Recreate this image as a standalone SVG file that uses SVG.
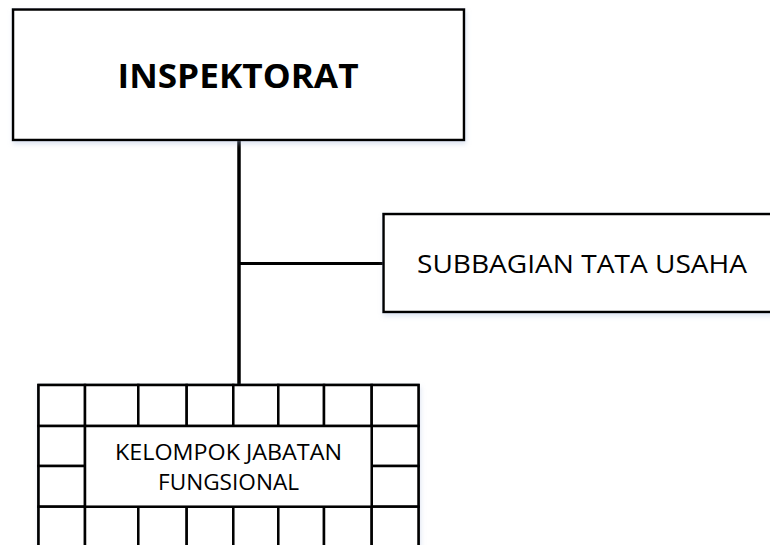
<svg xmlns="http://www.w3.org/2000/svg" width="770" height="545" viewBox="0 0 770 545">
<defs>
<style>
.box{fill:#fff;stroke:#000;stroke-width:2.5}
.cell{fill:#fff;stroke:#000;stroke-width:2.5}
.conn{stroke:#000;fill:none}
.t{font-family:"Open Sans","Liberation Sans",sans-serif;fill:#000}
</style>
<filter id="sh" x="-10%" y="-10%" width="120%" height="130%">
<feDropShadow dx="1" dy="3" stdDeviation="2.5" flood-color="#9fb4d8" flood-opacity="0.35"/>
</filter>
</defs>
<rect width="770" height="545" fill="#fff"/>
<g id="connectors">
<line class="conn" x1="239" y1="140" x2="239" y2="385" stroke-width="3.5"/>
<line class="conn" x1="239" y1="263.5" x2="384" y2="263.5" stroke-width="3"/>
</g>
<g id="inspektorat">
<rect class="box" x="13" y="9.5" width="451" height="130.5" filter="url(#sh)"/>
<text class="t" x="238" y="88" font-size="34" font-weight="bold" text-anchor="middle" textLength="241" lengthAdjust="spacingAndGlyphs">INSPEKTORAT</text>
</g>
<g id="subbagian">
<rect class="box" x="383.5" y="214" width="400" height="98" filter="url(#sh)"/>
<text class="t" x="417" y="273" font-size="26" textLength="330" lengthAdjust="spacingAndGlyphs">SUBBAGIAN TATA USAHA</text>
</g>
<g id="kelompok">
<g filter="url(#sh)">
<rect class="cell" x="38.5" y="385" width="380" height="180"/>
</g>
<g class="grid">
<!-- top row -->
<rect class="cell" x="38.5" y="385" width="46.5" height="41"/>
<rect class="cell" x="85" y="385" width="53.3" height="41"/>
<rect class="cell" x="138.3" y="385" width="48.4" height="41"/>
<rect class="cell" x="186.7" y="385" width="46.6" height="41"/>
<rect class="cell" x="233.3" y="385" width="45" height="41"/>
<rect class="cell" x="278.3" y="385" width="45.7" height="41"/>
<rect class="cell" x="324" y="385" width="47.7" height="41"/>
<rect class="cell" x="371.7" y="385" width="46.8" height="41"/>
<!-- side cells -->
<rect class="cell" x="38.5" y="426" width="46.5" height="40"/>
<rect class="cell" x="38.5" y="466" width="46.5" height="40.7"/>
<rect class="cell" x="371.7" y="426" width="46.8" height="40"/>
<rect class="cell" x="371.7" y="466" width="46.8" height="40.7"/>
<!-- bottom row -->
<rect class="cell" x="38.5" y="506.7" width="46.5" height="60"/>
<rect class="cell" x="85" y="506.7" width="53.3" height="60"/>
<rect class="cell" x="138.3" y="506.7" width="48.4" height="60"/>
<rect class="cell" x="186.7" y="506.7" width="46.6" height="60"/>
<rect class="cell" x="233.3" y="506.7" width="45" height="60"/>
<rect class="cell" x="278.3" y="506.7" width="45.7" height="60"/>
<rect class="cell" x="324" y="506.7" width="47.7" height="60"/>
<rect class="cell" x="371.7" y="506.7" width="46.8" height="60"/>
</g>
<rect class="cell" x="85" y="426" width="286.7" height="80.7"/>
<text class="t" x="228.5" y="460" font-size="21" text-anchor="middle" textLength="227" lengthAdjust="spacingAndGlyphs">KELOMPOK JABATAN</text>
<text class="t" x="228.5" y="490" font-size="21" text-anchor="middle" textLength="141" lengthAdjust="spacingAndGlyphs">FUNGSIONAL</text>
</g>
</svg>
